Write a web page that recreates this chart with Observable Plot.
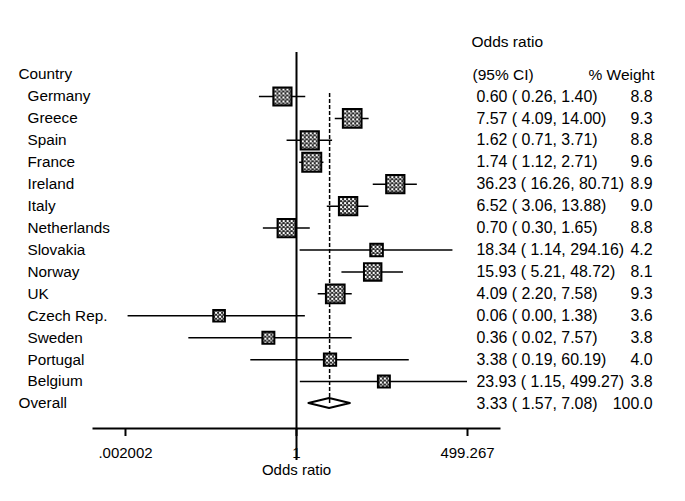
<!DOCTYPE html>
<html><head><meta charset="utf-8">
<script src="https://cdn.jsdelivr.net/npm/d3@7"></script>
<script src="https://cdn.jsdelivr.net/npm/@observablehq/plot@0.6"></script>
<style>body{margin:0;background:#fff}</style>
</head><body><div id="chart"></div>
<script>
const countries = ["Germany","Greece","Spain","France","Ireland","Italy","Netherlands","Slovakia","Norway","UK","Czech Rep.","Sweden","Portugal","Belgium"];
const orVals = [0.60,7.57,1.62,1.74,36.23,6.52,0.70,18.34,15.93,4.09,0.06,0.36,3.38,23.93];
const loVals = [0.26,4.09,0.71,1.12,16.26,3.06,0.30,1.14,5.21,2.20,0.0022,0.02,0.19,1.15];
const hiVals = [1.40,14.00,3.71,2.71,80.71,13.88,1.65,294.16,48.72,7.58,1.38,7.57,60.19,499.27];
const weights = [8.8,9.3,8.8,9.6,8.9,9.0,8.8,4.2,8.1,9.3,3.6,3.8,4.0,3.8];
const overallLabel = "Overall";
const overallOr = 3.33, overallLo = 1.57, overallHi = 7.08, overallWeight = 100.0;
const tickVals = [0.002002, 1, 499.267];
const tickLabels = [".002002", "1", "499.267"];
const headerTitle = "Odds ratio";
const headerCI = "(95% CI)";
const headerWeight = "% Weight";
const headerCountry = "Country";
const axisTitle = "Odds ratio";

const rows = countries.map((c, i) => ({country: c, idx: i, or: orVals[i], lo: loVals[i], hi: hiVals[i], w: weights[i]}));
const overall = {country: overallLabel, idx: countries.length, or: overallOr, lo: overallLo, hi: overallHi, w: overallWeight};
const allRows = [...rows, overall];
const ticks = tickVals.map((v, i) => ({v, label: tickLabels[i]}));
const fmtCI = d => `${d.or.toFixed(2)} ( ${d.lo.toFixed(2)}, ${d.hi.toFixed(2)})`;
const H = 0.23; // diamond half-height in row units
const diamond = [
  {y: overall.idx - H, x1: overall.or, x2: overall.or},
  {y: overall.idx, x1: overall.lo, x2: overall.hi},
  {y: overall.idx + H, x1: overall.or, x2: overall.or}
];
const FONT = "'Liberation Sans', Arial, sans-serif";

const svg = Plot.plot({
  width: 685, height: 501,
  marginLeft: 93, marginRight: 186, marginTop: 52, marginBottom: 73,
  style: {fontFamily: FONT, fontSize: "15px", color: "black", background: "white"},
  x: {type: "log", domain: [1/1597, 1597]},
  y: {domain: [0, countries.length], range: [96, 403], axis: null},
  r: {type: "sqrt", domain: [0, 10], range: [0, 10.94]},
  marks: [
    Plot.frame({anchor: "bottom", strokeWidth: 2}),
    Plot.axisX({ticks: tickVals, tickSize: 8, strokeWidth: 2, text: null, label: null}),
    Plot.text(ticks, {x: "v", text: "label", frameAnchor: "bottom", lineAnchor: "top", dy: 19, fontSize: 15}),
    Plot.text([axisTitle], {x: () => 1, frameAnchor: "bottom", text: d => d, dy: 46, fontSize: 15}),
    Plot.ruleX([1], {strokeWidth: 2, insetBottom: -32}),
    Plot.ruleY(rows, {y: "idx", x1: "lo", x2: "hi", strokeWidth: 1.5}),
    Plot.areaX(diamond, {y: "y", x1: "x1", x2: "x2", fill: "white", stroke: "black", strokeWidth: 2}),
    Plot.ruleX([overall], {x: "or", y1: () => 0, y2: "idx", strokeWidth: 1.5, strokeDasharray: "4,2", insetTop: -3}),
    Plot.dot(rows, {x: "or", y: "idx", r: "w", symbol: "square", fill: "url(#chk)", stroke: "black", strokeWidth: 2}),
    // left labels
    Plot.text(rows, {y: "idx", text: "country", frameAnchor: "left", textAnchor: "start", dx: -66, fontSize: 15.3}),
    Plot.text([overall], {y: "idx", text: "country", frameAnchor: "left", textAnchor: "start", dx: -75, fontSize: 15.3}),
    Plot.text([headerCountry], {text: d => d, frameAnchor: "top-left", textAnchor: "start", dx: -75, dy: 16, fontSize: 15.3}),
    // right columns
    Plot.text(allRows, {y: "idx", text: fmtCI, frameAnchor: "right", textAnchor: "start", dx: -23, fontSize: 15.9}),
    Plot.text(allRows, {y: "idx", text: d => d.w.toFixed(1), frameAnchor: "right", textAnchor: "end", dx: 153, fontSize: 15.9}),
    Plot.text([headerTitle], {text: d => d, frameAnchor: "top-right", textAnchor: "start", dx: -28, dy: -17, fontSize: 15.5}),
    Plot.text([headerCI], {text: d => d, frameAnchor: "top-right", textAnchor: "start", dx: -27, dy: 16, fontSize: 15.5}),
    Plot.text([headerWeight], {text: d => d, frameAnchor: "top-right", textAnchor: "end", dx: 155, dy: 16, fontSize: 15.5})
  ]
});

const defs = d3.select(svg).insert("defs", ":first-child");
const pat = defs.append("pattern").attr("id", "chk").attr("patternUnits", "userSpaceOnUse").attr("width", 4).attr("height", 4);
pat.append("rect").attr("width", 4).attr("height", 4).attr("fill", "#2a2a2a");
pat.append("rect").attr("x", 0).attr("y", 0).attr("width", 2).attr("height", 2).attr("fill", "white");
pat.append("rect").attr("x", 2).attr("y", 2).attr("width", 1.5).attr("height", 1.5).attr("fill", "white");

document.getElementById("chart").appendChild(svg);
</script>
</body></html>
